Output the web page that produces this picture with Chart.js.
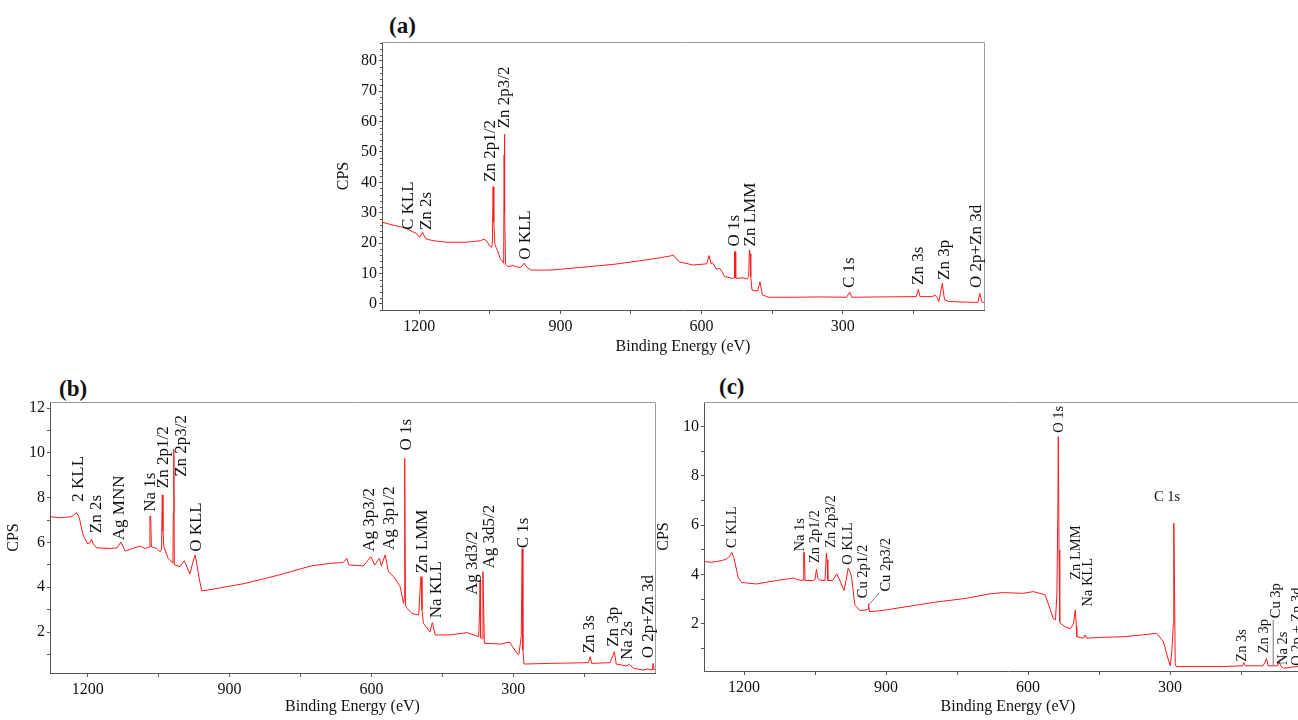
<!DOCTYPE html>
<html>
<head>
<meta charset="utf-8">
<script src="https://cdn.jsdelivr.net/npm/chart.js@4.4.1/dist/chart.umd.min.js"></script>
<style>
html, body { margin:0; padding:0; width:1298px; height:720px; overflow:hidden; background:#fff; }
canvas { position:absolute; }
.tag { position:absolute; font:bold 23px "Liberation Serif", "Times New Roman", serif; line-height:1; color:#111; }
</style>
</head>
<body>
<div class="tag" style="left:389px;top:14px">(a)</div>
<div class="tag" style="left:59px;top:377px">(b)</div>
<div class="tag" style="left:719px;top:375px">(c)</div>
<canvas id="chartA" width="670" height="360" style="left:330px;top:0px"></canvas>
<canvas id="chartB" width="670" height="360" style="left:0px;top:360px"></canvas>
<canvas id="chartC" width="680" height="360" style="left:650px;top:360px"></canvas>
<script>
var FONT = '"Liberation Serif", "Times New Roman", serif';

// x axis ticks (eV), shared by all three panels
var xTicks      = [1200, 1050, 900, 750, 600, 450, 300, 150];
var xTickLabels = [1200, 900, 600, 300];

// (a) spectrum [binding energy, CPS]
var spectrumA = [
  [1280, 27.0], [1260, 26.1], [1240, 25.4], [1226, 24.8], [1220, 24.2], [1206, 23.2], [1199, 21.9],
  [1193, 23.6], [1186, 21.4], [1170, 20.8], [1141, 20.3], [1100, 20.3], [1070, 20.8], [1062, 21.3],
  [1056, 20.6], [1050, 19.0], [1046, 18.6], [1044.5, 20.0], [1043, 38.6], [1041.5, 27.0], [1039, 19.5],
  [1034, 17.6], [1028, 15.0], [1022, 13.8], [1020.5, 13.4], [1019.5, 49.0], [1019, 55.9], [1018, 30.0],
  [1016.5, 13.0], [1012, 12.3], [1000, 12.6], [988, 12.0], [983, 12.2], [977, 13.4], [971, 12.0],
  [963, 11.2], [940, 11.1], [916, 11.2], [858, 12.0], [788, 13.0], [717, 14.5], [688, 15.2], [666, 15.8],
  [660, 16.1], [652, 14.5], [646, 13.8], [618, 12.8], [589, 13.2], [584, 15.9], [580, 13.2], [577, 13.6],
  [568, 11.4], [561, 11.7], [551, 9.0], [534, 8.4], [530.5, 8.5], [530, 17.2], [528.5, 17.2], [527.5, 8.6],
  [525, 8.4], [512, 8.6], [504, 8.2], [500, 9.0], [498.5, 17.8], [497, 16.5], [495.5, 9.0], [493, 4.6],
  [481, 4.2], [476, 7.3], [471, 3.0], [458, 2.2], [400, 2.2], [350, 2.3], [292, 2.2], [285, 3.9],
  [281, 2.2], [220, 2.3], [144, 2.4], [139.5, 4.8], [136, 2.4], [110, 2.4], [104, 2.9], [99, 2.0],
  [96, 0.8], [88.5, 6.8], [85, 2.5], [83, 1.3], [74, 0.8], [40, 0.6], [13, 0.5], [9, 3.5], [5, 0.8], [0, 0.4]
];
// (b) spectrum
var spectrumB = [
  [1280, 7.15], [1260, 7.1], [1248, 7.12], [1234, 7.15], [1228, 7.25], [1224, 7.33], [1220, 7.2],
  [1217, 7.0], [1210, 6.33], [1200, 5.93], [1195, 6.0], [1192, 6.14], [1188, 5.9], [1181, 5.76],
  [1150, 5.73], [1138, 5.76], [1130, 6.02], [1121, 5.62], [1110, 5.69], [1090, 5.84], [1079, 5.73],
  [1070, 5.8], [1068.5, 7.18], [1067, 7.18], [1065.5, 5.8], [1054, 5.73], [1047, 5.58], [1044, 5.7],
  [1042.5, 8.12], [1041, 6.5], [1039, 5.8], [1030, 5.29], [1020, 5.07], [1019, 7.3], [1018, 10.16],
  [1017, 5.0], [1016, 5.0], [1005, 4.92], [996, 5.18], [990, 4.9], [984, 4.59], [978, 5.1], [973, 5.44],
  [969, 5.0], [965, 4.47], [959, 3.84], [947, 3.87], [867, 4.17], [797, 4.54], [726, 4.96], [684, 5.07],
  [660, 5.1], [652, 5.29], [648, 5.0], [645, 4.99], [617, 4.95], [601, 5.36], [593, 4.99], [583, 5.29],
  [579, 4.95], [571, 5.44], [564, 4.69], [553, 4.47], [539, 4.02], [532, 3.28], [530.5, 3.5], [530, 9.75],
  [529, 9.6], [528, 3.2], [525, 3.06], [514, 2.83], [500, 2.76], [496, 4.3], [495, 4.47], [493, 3.0],
  [490, 2.39], [476, 2.01], [471, 2.42], [465, 1.87], [433, 1.87], [398, 1.97], [380, 1.85], [373, 1.79],
  [371, 3.0], [370, 4.32], [369, 1.75], [365, 1.7], [364, 4.69], [363, 3.5], [361, 1.5], [327, 1.46],
  [308, 1.55], [292, 1.05], [288, 1.0], [283, 1.8], [281, 5.72], [279.5, 1.2], [277, 0.57], [222, 0.6],
  [141, 0.63], [137, 0.9], [134, 0.6], [95, 0.63], [86, 1.12], [82, 0.57], [59, 0.48], [56, 0.57],
  [45, 0.38], [25, 0.3], [15, 0.35], [6, 0.3], [4, 0.6], [2, 0.3], [0, 0.35]
];
// (c) spectrum
var spectrumC = [
  [1284, 4.53], [1270, 4.5], [1258, 4.53], [1245, 4.58], [1237, 4.63], [1230, 4.75], [1226, 4.9],
  [1222, 4.7], [1219, 4.47], [1212, 3.86], [1205, 3.68], [1190, 3.65], [1173, 3.62], [1150, 3.7],
  [1131, 3.76], [1110, 3.82], [1096, 3.86], [1088, 3.8], [1082, 3.77], [1075, 3.77], [1074, 4.9],
  [1072.5, 4.9], [1071, 3.76], [1054, 3.76], [1050, 3.8], [1047, 4.22], [1044, 3.85], [1040, 3.78],
  [1029, 3.76], [1026, 4.87], [1024.5, 4.6], [1023, 3.76], [1013, 3.76], [1004, 4.03], [996, 3.7],
  [989, 3.35], [984, 3.8], [980, 4.26], [976, 4.1], [973, 3.93], [966, 2.77], [955, 2.54], [943, 2.56],
  [938, 2.6], [937, 2.81], [935, 2.5], [920, 2.52], [899, 2.57], [800, 2.87], [730, 3.04], [680, 3.22],
  [652, 3.27], [610, 3.24], [589, 3.31], [564, 3.18], [554, 2.64], [547, 2.23], [542, 2.16], [539, 3.2],
  [537, 6.5], [536, 9.6], [534.5, 5.0], [533, 2.1], [532, 2.03], [522, 1.89], [511, 1.8], [504, 2.0],
  [501, 2.45], [500, 2.57], [498, 1.9], [497, 1.48], [483, 1.42], [479, 1.55], [476, 1.42], [450, 1.45],
  [399, 1.48], [360, 1.55], [328, 1.62], [314, 1.28], [303.5, 0.54], [299.5, 0.3], [296, 0.9], [293, 2.0],
  [292, 6.09], [290.5, 3.5], [289, 0.4], [287, 0.27], [240, 0.27], [187, 0.27], [147, 0.3], [144, 0.43],
  [141, 0.3], [104, 0.3], [99, 0.45], [96, 0.6], [93, 0.3], [73, 0.3], [69, 0.45], [66, 0.3], [60, 0.2],
  [32, 0.27], [20, 0.3], [12, 0.5], [10, 0.3], [0, 0.3]
];

// peak labels [text, eV, CPS at the foot of the text]
var peaksA = [
  ['C KLL', 1223, 24.3], ['Zn 2s', 1184, 24.3], ['Zn 2p1/2', 1048, 40.2], ['Zn 2p3/2', 1018, 57.8],
  ['O KLL', 975, 14.5], ['O 1s', 531, 18.9], ['Zn LMM', 497, 18.9], ['C 1s', 285, 5.2],
  ['Zn 3s', 139, 6.25], ['Zn 3p', 83.5, 7.9], ['O 2p+Zn 3d', 16, 5.2]
];
var peaksB = [
  ['2 KLL', 1220, 7.82], ['Zn 2s', 1181, 6.41], ['Ag MNN', 1132, 6.1], ['Na 1s', 1067, 7.37],
  ['Zn 2p1/2', 1040, 8.42], ['Zn 2p3/2', 1001, 8.93], ['O KLL', 970, 5.58], ['Ag 3p3/2', 604, 5.58],
  ['Ag 3p1/2', 562, 5.66], ['O 1s', 525, 10.1], ['Zn LMM', 491, 4.62], ['Na KLL', 463, 2.61],
  ['Ag 3d3/2', 387, 3.65], ['Ag 3d5/2', 350, 4.84], ['C 1s', 279, 5.74], ['Zn 3s', 138, 1.05],
  ['Zn 3p', 88, 1.34], ['Na 2s', 58, 0.75], ['O 2p+Zn 3d', 14, 0.83]
];
var peaksC = [
  ['C KLL', 1226, 5.08], ['Na 1s', 1082, 4.94], ['Zn 2p1/2', 1050, 4.47], ['Zn 2p3/2', 1015, 5.08],
  ['O KLL', 980, 4.4], ['Cu 2p1/2', 948, 3.04], ['Cu 2p3/2', 899, 3.31], ['O 1s', 534, 9.75],
  ['Zn LMM', 499, 3.79], ['Na KLL', 473, 2.7], ['Zn 3s', 147, 0.47], ['Zn 3p', 101, 0.81],
  ['Cu 3p', 75, 2.23], ['Na 2s', 61, 0.33], ['O 2p + Zn 3d', 32, 0.3]
];
var flatPeaksC = [['C 1s', 306, 6.97]];
var leadersC = [[915, 3.25, 936, 2.78], [82, 2.16, 82, 0.33]];

function buildChart(id, cfg){
  var overlay = {
    id: 'overlay',
    afterDraw: function(chart){
      var c = chart.ctx, a = chart.chartArea;
      var xs = chart.scales.x, ys = chart.scales.y;
      c.save();
      // top and right frame
      c.strokeStyle = '#9c9c9c';
      c.lineWidth = 1;
      c.beginPath();
      c.moveTo(a.left, Math.round(a.top) + 0.5);
      c.lineTo(Math.round(a.right) + 0.5, Math.round(a.top) + 0.5);
      c.lineTo(Math.round(a.right) + 0.5, a.bottom);
      c.stroke();
      // small y ticks
      if(cfg.yMinor){
        c.strokeStyle = '#555';
        c.beginPath();
        for(var v = cfg.yMin; v <= cfg.yMax; v += cfg.yMinor){
          var vv = Math.round(v * 100) / 100;
          if(cfg.yTicks.indexOf(vv) >= 0) continue;
          var py = Math.round(ys.getPixelForValue(vv)) + 0.5;
          c.moveTo(a.left - 2, py);
          c.lineTo(a.left, py);
        }
        c.stroke();
      }
      // peak labels
      c.fillStyle = '#111';
      c.font = cfg.labelSize + 'px ' + FONT;
      cfg.peaks.forEach(function(p){
        c.save();
        c.translate(xs.getPixelForValue(p[1]), ys.getPixelForValue(p[2]));
        c.rotate(-Math.PI / 2);
        c.textAlign = 'left';
        c.textBaseline = 'middle';
        c.fillText(p[0], 0, 0);
        c.restore();
      });
      (cfg.flatPeaks || []).forEach(function(p){
        c.textAlign = 'center';
        c.textBaseline = 'alphabetic';
        c.fillText(p[0], xs.getPixelForValue(p[1]), ys.getPixelForValue(p[2]));
      });
      c.strokeStyle = '#555';
      c.lineWidth = 0.8;
      (cfg.leaders || []).forEach(function(l){
        c.beginPath();
        c.moveTo(xs.getPixelForValue(l[0]), ys.getPixelForValue(l[1]));
        c.lineTo(xs.getPixelForValue(l[2]), ys.getPixelForValue(l[3]));
        c.stroke();
      });
      c.restore();
    }
  };

  return new Chart(document.getElementById(id), {
    type: 'line',
    data: {
      datasets: [{
        data: cfg.points.map(function(p){ return {x: p[0], y: p[1]}; }),
        borderColor: '#ff1a1a',
        borderWidth: 1,
        pointRadius: 0,
        tension: 0,
        fill: false
      }]
    },
    options: {
      responsive: false,
      animation: false,
      events: [],
      layout: { padding: { top: cfg.padTop, right: cfg.padRight, left: 0, bottom: 0 } },
      plugins: { legend: { display: false }, tooltip: { enabled: false } },
      scales: {
        x: {
          type: 'linear',
          reverse: true,
          min: 0,
          max: cfg.xMax,
          afterBuildTicks: function(s){ s.ticks = xTicks.map(function(v){ return {value: v}; }); },
          afterFit: function(s){ s.height = cfg.xHeight; },
          ticks: {
            autoSkip: false, maxRotation: 0, padding: 3, color: '#111',
            font: { family: FONT, size: 16 },
            callback: function(v){ return xTickLabels.indexOf(v) >= 0 ? String(v) : ''; }
          },
          grid: { display: true, drawOnChartArea: false, tickLength: 4, color: '#555' },
          border: { color: '#555', width: 1 },
          title: { display: true, text: 'Binding Energy (eV)', color: '#111',
                   font: { family: FONT, size: 16 }, padding: { top: 0, bottom: 4 } }
        },
        y: {
          type: 'linear',
          min: cfg.yMin,
          max: cfg.yMax,
          afterBuildTicks: function(s){ s.ticks = cfg.yTicks.map(function(v){ return {value: v}; }); },
          afterFit: function(s){ s.width = cfg.yWidth; },
          ticks: {
            autoSkip: false, padding: 2, color: '#111',
            font: { family: FONT, size: 16 },
            callback: function(v){ return cfg.yTickLabels.indexOf(v) >= 0 ? String(v) : ''; }
          },
          grid: { display: true, drawOnChartArea: false, tickLength: 3, color: '#555' },
          border: { color: '#555', width: 1 },
          title: { display: true, text: 'CPS', color: '#111',
                   font: { family: FONT, size: 16 }, padding: { top: 4, bottom: 0 } }
        }
      }
    },
    plugins: [overlay]
  });
}

buildChart('chartA', {
  points: spectrumA, peaks: peaksA, labelSize: 17,
  xMax: 1279, yMin: -2, yMax: 86.2,
  yTicks: [0, 10, 20, 30, 40, 50, 60, 70, 80], yTickLabels: [0, 10, 20, 30, 40, 50, 60, 70, 80], yMinor: 2,
  padTop: 42, padRight: 16, xHeight: 50, yWidth: 52
});
buildChart('chartB', {
  points: spectrumB, peaks: peaksB, labelSize: 17,
  xMax: 1280, yMin: 0.17, yMax: 12.27,
  yTicks: [1, 2, 3, 4, 5, 6, 7, 8, 9, 10, 11, 12], yTickLabels: [2, 4, 6, 8, 10, 12],
  padTop: 42, padRight: 15, xHeight: 47, yWidth: 50
});
buildChart('chartC', {
  points: spectrumC, peaks: peaksC, flatPeaks: flatPeaksC, leaders: leadersC, labelSize: 14.5,
  xMax: 1284.6, yMin: 0.09, yMax: 11.0,
  yTicks: [1, 2, 3, 4, 5, 6, 7, 8, 9, 10], yTickLabels: [2, 4, 6, 8, 10],
  padTop: 42, padRight: 18, xHeight: 49, yWidth: 54
});
</script>
</body>
</html>
